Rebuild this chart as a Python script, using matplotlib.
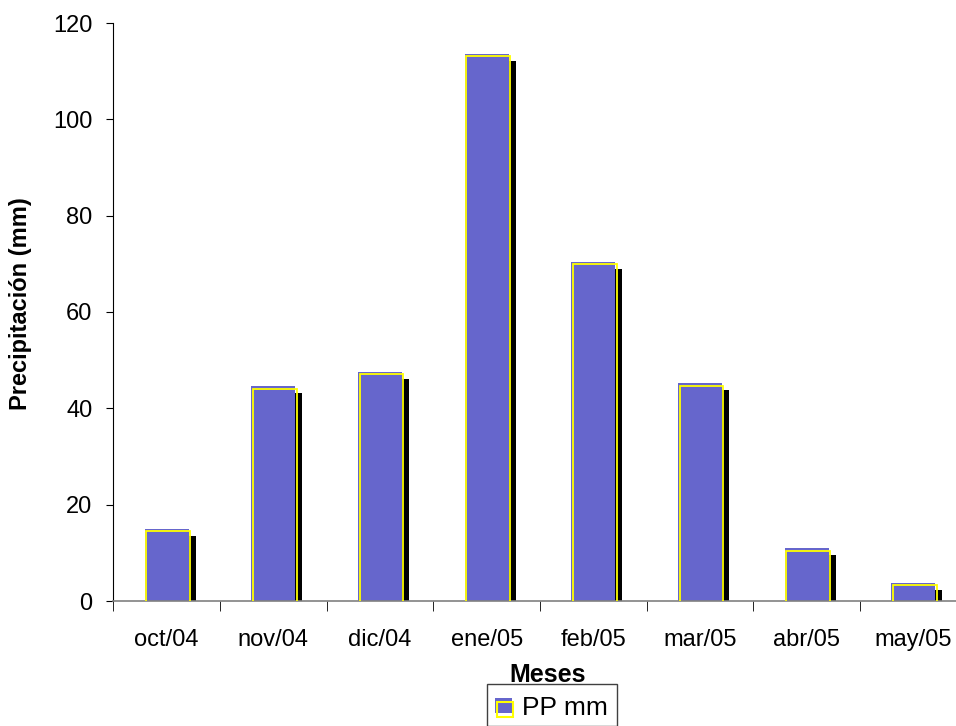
import matplotlib
matplotlib.use("Agg")
import matplotlib.pyplot as plt
from matplotlib.patches import Rectangle
from matplotlib.transforms import offset_copy

plt.rcParams['font.family'] = ['Liberation Sans', 'DejaVu Sans']

months = ["oct/04", "nov/04", "dic/04", "ene/05", "feb/05", "mar/05", "abr/05", "may/05"]
precip = [15.0, 44.6, 47.6, 113.6, 70.4, 45.2, 10.9, 3.8]

BLUE = "#6666CC"
YELLOW = "#FFFF00"

W, H = 956, 726
fig = plt.figure(figsize=(W / 100, H / 100), dpi=100)
ax_left, ax_right, ax_top, ax_bottom = 113.3, 966.7, 23, 601
ax = fig.add_axes([ax_left / W, 1 - ax_bottom / H,
                   (ax_right - ax_left) / W, (ax_bottom - ax_top) / H])

x = list(range(len(months)))
width = 0.41

# shadow (offset right/down), filled bar, offset yellow frame
shadow_tr = offset_copy(ax.transData, fig=fig, x=7, y=-7, units='dots')
frame_tr = offset_copy(ax.transData, fig=fig, x=1.5, y=-2.5, units='dots')

ax.bar(x, precip, width=width, color="black", transform=shadow_tr, zorder=1)
ax.bar(x, precip, width=width, color=BLUE, zorder=2)
ax.bar(x, precip, width=width, facecolor="none", edgecolor=YELLOW,
       linewidth=1.3, transform=frame_tr, zorder=3)

ax.set_xlim(-0.5, len(months) - 0.5)
ax.set_ylim(0, 120)
ax.set_yticks(range(0, 121, 20))
ax.set_xticks(x)
ax.set_xticklabels(months)
ax.set_xticks([i - 0.5 for i in range(len(months) + 1)], minor=True)
ax.tick_params(axis='x', which='major', length=0, pad=20, labelsize=17)
ax.tick_params(axis='x', which='minor', length=7, direction='out', color='black')
ax.tick_params(axis='y', length=5, direction='out', labelsize=17, pad=10)

for s in ("top", "right"):
    ax.spines[s].set_visible(False)
ax.spines["bottom"].set_color("#808080")
ax.spines["bottom"].set_linewidth(1.2)
ax.spines["left"].set_color("black")

fig.text(21 / W, 1 - 304 / H, "Precipitación (mm)", rotation=90,
         ha='center', va='center', fontsize=17, fontweight='bold')
fig.text(548 / W, 1 - 675 / H, "Meses", ha='center', va='center',
         fontsize=18, fontweight='bold')

# legend box
fig.add_artist(Rectangle((487 / W, 0), (617 - 487) / W, (H - 684) / H,
                         transform=fig.transFigure, facecolor='white',
                         edgecolor='#404040', linewidth=1))
fig.add_artist(Rectangle((495 / W, 1 - 713 / H), 17 / W, 15 / H,
                         transform=fig.transFigure, facecolor=BLUE, edgecolor='none'))
fig.add_artist(Rectangle((497 / W, 1 - 716.5 / H), 15.5 / W, 15 / H,
                         transform=fig.transFigure, facecolor='none',
                         edgecolor=YELLOW, linewidth=1.5))
fig.text(522 / W, 1 - 708 / H, "PP mm", ha='left', va='center', fontsize=19)

fig.savefig("out.png", dpi=100)
